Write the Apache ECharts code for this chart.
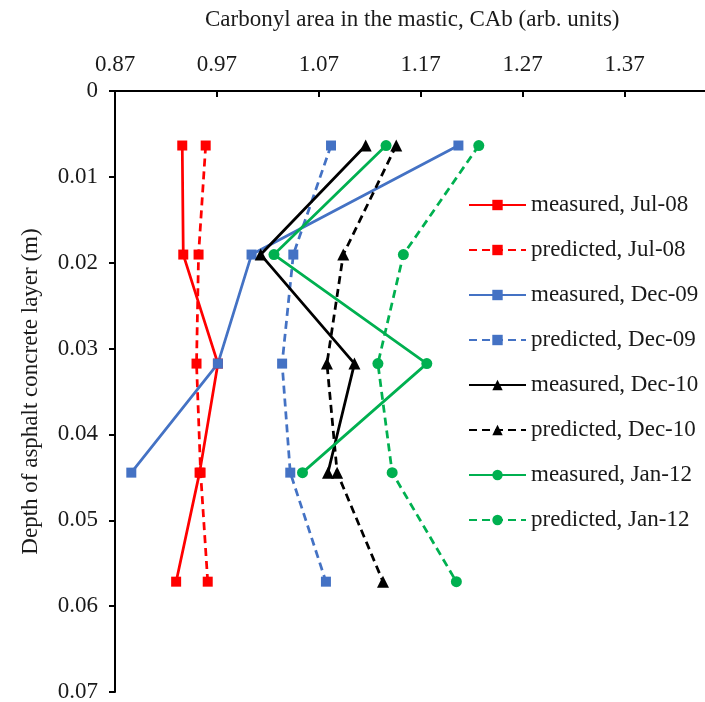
<!DOCTYPE html>
<html>
<head>
<meta charset="utf-8">
<script src="https://cdn.jsdelivr.net/npm/echarts@6/dist/echarts.min.js"></script>
<style>
  html, body { margin: 0; padding: 0; background: #fff; overflow: hidden; }
  #chart { width: 705px; height: 702px; }
</style>
</head>
<body>
<div id="chart"></div>
<script>
// Sampling depths (m): 0.25, 0.75, 1.25, 1.75, 2.25 inch below the surface
const depths = [0.00635, 0.01905, 0.03175, 0.04445, 0.05715];

// Carbonyl area in the mastic at each depth
const measuredJul08  = [0.936, 0.937, 0.971, 0.953, 0.930];
const predictedJul08 = [0.959, 0.952, 0.950, 0.954, 0.961];
const measuredDec09  = [1.207, 1.004, 0.971, 0.886];
const predictedDec09 = [1.082, 1.045, 1.034, 1.042, 1.077];
const measuredDec10  = [1.116, 1.013, 1.105, 1.079];
const predictedDec10 = [1.146, 1.094, 1.078, 1.088, 1.133];
const measuredJan12  = [1.136, 1.026, 1.176, 1.054];
const predictedJan12 = [1.227, 1.153, 1.128, 1.142, 1.205];

const xTitle = 'Carbonyl area in the mastic, CAb (arb. units)';
const yTitle = 'Depth of asphalt concrete layer (m)';

const FONT = '"Liberation Serif", "Times New Roman", serif';
const TXT = '#1a1a1a';

function pairs(vals) {
  return vals.map((v, i) => [v, depths[i]]);
}

function makeSeries(name, vals, color, dashed, symbol, size) {
  return {
    name: name,
    type: 'line',
    data: pairs(vals),
    symbol: symbol,
    symbolSize: size,
    showSymbol: true,
    animation: false,
    lineStyle: { color: color, width: 2.75, type: dashed ? [8, 5] : 'solid' },
    itemStyle: { color: color, borderWidth: 0 }
  };
}

const series = [
  makeSeries('measured, Jul-08',  measuredJul08,  '#FF0000', false, 'rect', 10),
  makeSeries('predicted, Jul-08', predictedJul08, '#FF0000', true,  'rect', 10),
  makeSeries('measured, Dec-09',  measuredDec09,  '#4472C4', false, 'rect', 10),
  makeSeries('predicted, Dec-09', predictedDec09, '#4472C4', true,  'rect', 10),
  makeSeries('measured, Dec-10',  measuredDec10,  '#000000', false, 'triangle', 12),
  makeSeries('predicted, Dec-10', predictedDec10, '#000000', true,  'triangle', 12),
  makeSeries('measured, Jan-12',  measuredJan12,  '#00B050', false, 'circle', 11),
  makeSeries('predicted, Jan-12', predictedJan12, '#00B050', true,  'circle', 11)
];

const chart = echarts.init(document.getElementById('chart'), null, { renderer: 'canvas' });

chart.setOption({
  backgroundColor: '#ffffff',
  animation: false,
  // plot area runs past the right edge of the canvas (axis max sits off-screen)
  grid: {
    left: 115, top: 91, width: 611.4, height: 601,
    containLabel: false,
    outerBoundsMode: 'none'
  },
  graphic: [{
    type: 'text',
    left: 205,
    top: 8,
    style: { text: xTitle, fontFamily: FONT, fontSize: 23, fill: TXT }
  }],
  xAxis: {
    type: 'value',
    position: 'top',
    min: 0.87,
    max: 1.47,
    interval: 0.1,
    axisLine: { show: true, onZero: false, lineStyle: { color: '#000', width: 2 } },
    axisTick: { show: true, inside: true, length: 6, lineStyle: { color: '#000', width: 2 } },
    splitLine: { show: false },
    axisLabel: {
      fontFamily: FONT, fontSize: 23, color: TXT, margin: 15,
      formatter: v => Number(v).toFixed(2)
    }
  },
  yAxis: {
    type: 'value',
    inverse: true,
    min: 0,
    max: 0.07,
    interval: 0.01,
    name: yTitle,
    nameLocation: 'middle',
    nameGap: 73,
    nameTextStyle: { fontFamily: FONT, fontSize: 23, color: TXT },
    axisLine: { show: true, onZero: false, lineStyle: { color: '#000', width: 2 } },
    axisTick: { show: true, inside: false, length: 6, lineStyle: { color: '#000', width: 2 } },
    splitLine: { show: false },
    axisLabel: {
      fontFamily: FONT, fontSize: 23, color: TXT, margin: 17,
      formatter: v => (Math.abs(v) < 1e-9 ? '0' : Number(v).toFixed(2))
    }
  },
  legend: {
    orient: 'vertical',
    left: 468,
    top: 193,
    padding: 0,
    itemWidth: 57,
    itemHeight: 13,
    itemGap: 21,
    selectedMode: false,
    textStyle: { fontFamily: FONT, fontSize: 23, color: TXT, lineHeight: 24, padding: [0, 0, 0, 0] },
    data: series.map(s => s.name)
  },
  series: series
});
</script>
</body>
</html>
